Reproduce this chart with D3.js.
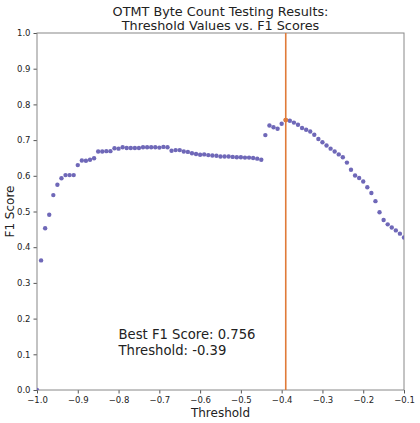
<!DOCTYPE html>
<html>
<head>
<meta charset="utf-8">
<script src="https://cdn.jsdelivr.net/npm/d3@7"></script>
<style>
  html, body { margin: 0; padding: 0; background: #fff; }
  svg { display: block; font-family: "DejaVu Sans", sans-serif; }
</style>
</head>
<body>
<svg id="chart" width="420" height="423"></svg>
<script>
const thresholds = [-1.00,-0.99,-0.98,-0.97,-0.96,-0.95,-0.94,-0.93,-0.92,-0.91,
  -0.90,-0.89,-0.88,-0.87,-0.86,-0.85,-0.84,-0.83,-0.82,-0.81,
  -0.80,-0.79,-0.78,-0.77,-0.76,-0.75,-0.74,-0.73,-0.72,-0.71,
  -0.70,-0.69,-0.68,-0.67,-0.66,-0.65,-0.64,-0.63,-0.62,-0.61,
  -0.60,-0.59,-0.58,-0.57,-0.56,-0.55,-0.54,-0.53,-0.52,-0.51,
  -0.50,-0.49,-0.48,-0.47,-0.46,-0.45,-0.44,-0.43,-0.42,-0.41,
  -0.40,-0.39,-0.38,-0.37,-0.36,-0.35,-0.34,-0.33,-0.32,-0.31,
  -0.30,-0.29,-0.28,-0.27,-0.26,-0.25,-0.24,-0.23,-0.22,-0.21,
  -0.20,-0.19,-0.18,-0.17,-0.16,-0.15,-0.14,-0.13,-0.12,-0.11,-0.10];
const f1Scores = [0.000,0.363,0.453,0.491,0.546,0.575,0.593,0.602,0.602,0.602,
  0.630,0.643,0.642,0.645,0.649,0.668,0.668,0.669,0.669,0.677,
  0.676,0.680,0.678,0.678,0.678,0.678,0.680,0.680,0.680,0.680,
  0.679,0.681,0.680,0.670,0.672,0.672,0.668,0.667,0.663,0.661,
  0.659,0.660,0.658,0.657,0.656,0.654,0.654,0.654,0.653,0.652,
  0.652,0.651,0.651,0.650,0.648,0.645,0.714,0.741,0.736,0.732,
  0.746,0.756,0.754,0.749,0.743,0.734,0.729,0.724,0.715,0.703,
  0.694,0.685,0.676,0.668,0.660,0.652,0.637,0.617,0.601,0.594,
  0.584,0.568,0.552,0.529,0.498,0.476,0.464,0.455,0.447,0.438,0.427];
const bestThreshold = -0.39;
const bestScore = 0.756;
const xTicks = [-1.0,-0.9,-0.8,-0.7,-0.6,-0.5,-0.4,-0.3,-0.2,-0.1];
const yTicks = [0.0,0.1,0.2,0.3,0.4,0.5,0.6,0.7,0.8,0.9,1.0];
const titleLines = ["OTMT Byte Count Testing Results:", "Threshold Values vs. F1 Scores"];
const annotationLines = ["Best F1 Score: " + bestScore.toFixed(3), "Threshold: " + bestThreshold.toFixed(2)];

const svg = d3.select("#chart");
const m = {left: 37, right: 404, top: 33, bottom: 390};
const x = d3.scaleLinear().domain([-1.0, -0.1]).range([m.left, m.right]);
const y = d3.scaleLinear().domain([0, 1]).range([m.bottom, m.top]);
const fmt = v => d3.format(".1f")(v).replace("-", "\u2212");

svg.append("defs").append("clipPath").attr("id", "clip")
  .append("rect").attr("x", m.left).attr("y", m.top)
  .attr("width", m.right - m.left).attr("height", m.bottom - m.top);

// title
svg.append("g").selectAll("text").data(titleLines).join("text")
  .attr("x", (m.left + m.right) / 2).attr("y", (d, i) => 16 + i * 13.5)
  .attr("text-anchor", "middle").attr("font-size", 12.8).attr("fill", "#222")
  .text(d => d);

// axes
const xAxis = svg.append("g").attr("transform", `translate(0,${m.bottom})`)
  .call(d3.axisBottom(x).tickValues(xTicks).tickFormat(fmt).tickSize(3.5).tickPadding(3));
const yAxis = svg.append("g").attr("transform", `translate(${m.left},0)`)
  .call(d3.axisLeft(y).tickValues(yTicks).tickFormat(fmt).tickSize(3.5).tickPadding(3));
[xAxis, yAxis].forEach(a => {
  a.select(".domain").remove();
  a.selectAll(".tick line").attr("stroke", "#555");
  a.selectAll(".tick text").attr("fill", "#222").attr("font-size", 8.5)
    .attr("font-family", "DejaVu Sans, sans-serif");
});

// spines
svg.append("rect").attr("x", m.left).attr("y", m.top)
  .attr("width", m.right - m.left).attr("height", m.bottom - m.top)
  .attr("fill", "none").attr("stroke", "#888").attr("stroke-width", 1);

// points
const pts = thresholds.map((t, i) => ({t, v: f1Scores[i]}));
svg.append("g").attr("clip-path", "url(#clip)").selectAll("circle").data(pts).join("circle")
  .attr("cx", d => x(d.t)).attr("cy", d => y(d.v)).attr("r", 2.2)
  .attr("fill", "#6f68b8");

// best threshold line
svg.append("line").attr("x1", x(bestThreshold)).attr("x2", x(bestThreshold))
  .attr("y1", m.top).attr("y2", m.bottom)
  .attr("stroke", "#e07b39").attr("stroke-width", 1.6);
svg.append("circle").attr("cx", x(bestThreshold)).attr("cy", y(bestScore)).attr("r", 2.4)
  .attr("fill", "#e07b39");

// annotation
svg.append("g").selectAll("text").data(annotationLines).join("text")
  .attr("x", x(-0.80)).attr("y", (d, i) => 339 + i * 15.5)
  .attr("font-size", 13.2).attr("fill", "#222").text(d => d);

// axis labels
svg.append("text").attr("x", (m.left + m.right) / 2).attr("y", 417)
  .attr("text-anchor", "middle").attr("font-size", 12).attr("fill", "#222").text("Threshold");
svg.append("text").attr("transform", `translate(14,${(m.top + m.bottom) / 2}) rotate(-90)`)
  .attr("text-anchor", "middle").attr("font-size", 12).attr("fill", "#222").text("F1 Score");
</script>
</body>
</html>
